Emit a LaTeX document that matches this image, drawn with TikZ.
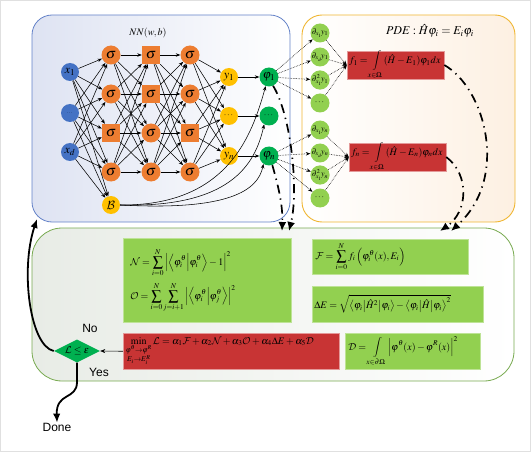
\documentclass[tikz,border=0pt]{standalone}
\usepackage{amsmath}
\usepackage{mathptmx}
\DeclareMathAlphabet{\mathcal}{OMS}{cmsy}{m}{n}
\usepackage[no-math]{fontspec}
\newfontfamily\sansf{Liberation Sans}
\usetikzlibrary{shapes.geometric,arrows.meta,calc}
\definecolor{inblue}{RGB}{68,114,196}
\definecolor{orng}{RGB}{237,125,49}
\definecolor{yel}{RGB}{255,192,0}
\definecolor{dgreen}{RGB}{0,176,80}
\definecolor{lgreen}{RGB}{146,208,80}
\definecolor{redbox}{RGB}{200,52,52}
\definecolor{nnborder}{RGB}{100,130,200}
\definecolor{nnfill}{RGB}{222,227,242}
\definecolor{pdeborder}{RGB}{240,182,50}
\definecolor{pdefill}{RGB}{253,240,226}
\definecolor{botborder}{RGB}{120,170,80}
\definecolor{botfill}{RGB}{232,236,230}
\begin{document}
\begin{tikzpicture}[x=1pt,y=-1pt,
  every node/.style={inner sep=0pt},
  inp/.style={circle,fill=inblue,minimum size=18pt,font=\large},
  sigc/.style={circle,fill=orng,minimum size=19pt,font=\Large},
  sigs/.style={rectangle,fill=orng,minimum size=18pt,font=\Large},
  ynode/.style={circle,fill=yel,minimum size=18pt,font=\large},
  phinode/.style={circle,fill=dgreen,minimum size=19pt,font=\large},
  dnode/.style={circle,fill=lgreen,minimum size=19pt,font=\footnotesize},
  fbox/.style={rectangle,fill=redbox,draw=redbox!50!white,line width=0.5pt,minimum height=28pt,align=left,inner xsep=2pt},
  gbox/.style={rectangle,fill=lgreen,draw=lgreen!60!white,line width=0.5pt,align=left},
  nnedge/.style={-{Stealth[length=4.5pt,width=3.5pt]},line width=0.55pt},
  dotedge/.style={-{Stealth[length=4.5pt,width=3.5pt]},densely dotted,line width=0.6pt},
  dd/.style={-{Latex[length=9pt,width=8pt]},line width=1.7pt,dash pattern=on 9pt off 5pt on 1.3pt off 5pt},
  thickarrow/.style={-{Latex[length=9pt,width=7.5pt]},line width=1.8pt},
  sans/.style={font=\sansf\fontsize{12}{14}\selectfont}]
\useasboundingbox (0,0) rectangle (531,452);
\draw[black!12,line width=0.8pt] (0.5,0.5) rectangle (530.5,451.5);

% container boxes
\draw[nnborder,line width=0.8pt,rounded corners=20pt,left color=nnfill,right color=white] (32,15) rectangle (290,222);
\draw[pdeborder,line width=0.9pt,rounded corners=20pt,left color=white,right color=pdefill] (302,15) rectangle (515,222);
\draw[botborder,line width=0.8pt,rounded corners=30pt,left color=botfill,right color=white] (32,228) rectangle (514,381);

\node (nnlab) at (148,33) {$NN(w,b)$};
\node (pdelab) at (430,31) {\large $PDE:\hat{H}\varphi_i=E_i\varphi_i$};

% network nodes
\node[inp] (x1) at (70,72) {$x_1$};
\node[inp] (xm) at (70,113) {\tiny$\cdots$};
\node[inp] (xd) at (70,152) {$x_d$};

\node[sigc] (a1) at (111,55) {$\sigma$};
\node[sigc] (a2) at (111,94) {$\sigma$};
\node[sigs] (a3) at (111,133) {$\sigma$};
\node[sigc] (a4) at (111,172) {$\sigma$};
\node[ynode] (B) at (111,205) {$\mathcal{B}$};

\node[sigs] (b1) at (151,55) {$\sigma$};
\node[sigs] (b2) at (151,94) {$\sigma$};
\node[sigc] (b3) at (151,133) {$\sigma$};
\node[sigc] (b4) at (151,172) {$\sigma$};

\node[sigc] (c1) at (190,55) {$\sigma$};
\node[sigc] (c2) at (190,94) {$\sigma$};
\node[sigs] (c3) at (190,133) {$\sigma$};
\node[sigc] (c4) at (190,172) {$\sigma$};

\node[ynode] (y1) at (229,77) {$y_1$};
\node[ynode] (ym) at (229,116) {\small$\cdots$};
\node[ynode] (yn) at (229,156) {$y_n$};

\node[phinode] (p1) at (269,77) {$\varphi_1$};
\node[phinode] (pm) at (269,116) {\small$\cdots$};
\node[phinode] (pn) at (269,156) {$\varphi_n$};

\foreach \s in {x1,xm,xd} \foreach \t in {a1,a2,a3,a4,B} \draw[nnedge] (\s) -- (\t);
\foreach \s in {a1,a2,a3,a4} \foreach \t in {b1,b2,b3,b4} \draw[nnedge] (\s) -- (\t);
\foreach \s in {b1,b2,b3,b4} \foreach \t in {c1,c2,c3,c4} \draw[nnedge] (\s) -- (\t);
\foreach \s in {c1,c2,c3,c4} \foreach \t in {y1,ym,yn} \draw[nnedge] (\s) -- (\t);
\draw[nnedge] (y1) -- (p1);
\draw[nnedge] (ym) -- (pm);
\draw[nnedge] (yn) -- (pn);
\draw[nnedge] (B.east) .. controls (228,206) and (252,135) .. (p1.250);
\draw[nnedge] (B.east) .. controls (230,208) and (255,165) .. (pm.240);
\draw[nnedge] (B.east) .. controls (230,211) and (258,190) .. (pn.235);

% derivative nodes
\node[dnode] (g11) at (320,33) {$\partial_{x_1}\!y_1$};
\node[dnode] (g12) at (320,57) {$\partial_{x_d}\!y_1$};
\node[dnode] (g13) at (320,80) {$\partial^2_{x_1}\!y_1$};
\node[dnode] (g14) at (320,103) {\small$\cdots$};
\node[dnode] (g21) at (320,130) {$\partial_{x_1}\!y_n$};
\node[dnode] (g22) at (320,153) {$\partial_{x_d}\!y_n$};
\node[dnode] (g23) at (320,175) {$\partial^2_{x_1}\!y_n$};
\node[dnode] (g24) at (320,198) {\small$\cdots$};

\node[fbox,text width=93pt] (f1) at (395.5,65) {$f_1=\displaystyle\int\limits_{x\in\Omega}(\hat{H}-E_1)\varphi_1dx$};
\node[fbox,text width=93pt] (fn) at (397.5,157) {$f_n=\displaystyle\int\limits_{x\in\Omega}(\hat{H}-E_n)\varphi_ndx$};

\foreach \t in {g11,g12,g13,g14} {\draw[dotedge] (p1) -- (\t); \draw[dotedge] (\t) -- (f1.west);}
\foreach \t in {g21,g22,g23,g24} {\draw[dotedge] (pn) -- (\t); \draw[dotedge] (\t) -- (fn.west);}

% dash-dot connectors
\coordinate (t1) at (289,231);
\coordinate (t2) at (282,231);
\coordinate (t3) at (451,231);
\coordinate (t4) at (440,231);
\draw[dd] (p1.-65) .. controls (291,115) and (299,190) .. (t1);
\draw[dd] (pn.-70) .. controls (278,185) and (283,205) .. (t2);
\draw[dd] (f1.east) .. controls (485,88) and (510,178) .. (t3);
\draw[dd] (fn.east) .. controls (470,175) and (468,212) .. (t4);

% bottom content
\node[gbox,text width=154pt,inner xsep=7pt,minimum height=84pt,anchor=north west] (NO) at (123,238)
 {$\mathcal{N}=\displaystyle\sum_{i=0}^{N}\left|\left\langle\varphi_i^\theta\middle|\varphi_i^\theta\right\rangle-1\right|^2$\\[5pt]
  $\mathcal{O}=\displaystyle\sum_{i=0}^{N}\sum_{j=i+1}^{N}\left|\left\langle\varphi_i^\theta\middle|\varphi_j^\theta\right\rangle\right|^2$};

\node[gbox,text width=150pt,inner xsep=3pt,minimum height=35pt,anchor=north west] (Fb) at (312,239)
 {$\mathcal{F}=\displaystyle\sum_{i=0}^{N}f_i\left(\varphi_i^\theta(x),E_i\right)$};

\node[gbox,text width=167pt,inner xsep=2pt,minimum height=36pt,anchor=north west] (Eb) at (312,286)
 {$\Delta E=\sqrt{\left\langle\varphi_i\middle|\hat{H}^2\middle|\varphi_i\right\rangle-\left\langle\varphi_i\middle|\hat{H}\middle|\varphi_i\right\rangle^2}$};

\node[gbox,text width=129pt,inner xsep=3pt,minimum height=36pt,anchor=north west] (Db) at (345,333)
 {$\mathcal{D}=\displaystyle\int\limits_{x\in\partial\Omega}\left|\varphi^\theta(x)-\varphi^R(x)\right|^2$};

\node[fbox,text width=211pt,inner xsep=2.5pt,minimum height=36pt,anchor=north west] (Lb) at (123,333)
 {$\displaystyle\min_{\substack{\varphi^\theta\to\varphi^R\\ E_i\to E_i^R}}\mathcal{L}=\alpha_1\mathcal{F}+\alpha_2\mathcal{N}+\alpha_3\mathcal{O}+\alpha_4\Delta E+\alpha_5\mathcal{D}$};

\node[diamond,fill=dgreen,minimum width=46pt,minimum height=23pt,aspect=2] (dec) at (77,351) {$\mathcal{L}\le\varepsilon$};
\draw[-{Stealth[length=5pt,width=4pt]},line width=0.6pt] (Lb.west) -- (dec.east);
\node[sans] (no) at (90,328) {No};
\node[sans] (yes) at (99,372) {Yes};
\node[sans] (done) at (57,427) {Done};
\coordinate (nnc) at (37,219);
\draw[thickarrow] (dec.west) .. controls (30,346) and (20,270) .. (nnc);
\draw[thickarrow] (dec.south) -- (77,382) .. controls (77,400) and (56,392) .. (done.north);
\end{tikzpicture}
\end{document}
